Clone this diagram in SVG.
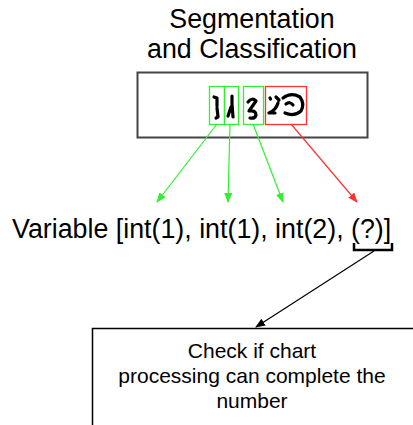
<svg xmlns="http://www.w3.org/2000/svg" width="413" height="425" viewBox="0 0 413 425">
<style>
text{font-family:"Liberation Sans",Arial,sans-serif;fill:#000}
.t{font-size:26.8px;text-anchor:middle}
.b{font-size:21px;text-anchor:middle}
.g{stroke:#3e3;fill:none;stroke-width:1.3}
.r{stroke:#f33;fill:none;stroke-width:1.3}
.ink{stroke:#000;fill:none;stroke-width:3.2;stroke-linecap:round;stroke-linejoin:round}
</style>
<defs>
<marker id="ag" markerWidth="10" markerHeight="8" refX="9" refY="4" orient="auto" markerUnits="userSpaceOnUse"><path d="M0,0 L10,4 L0,8 z" fill="#3e3"/></marker>
<marker id="ar" markerWidth="10" markerHeight="8" refX="9" refY="4" orient="auto" markerUnits="userSpaceOnUse"><path d="M0,0 L10,4 L0,8 z" fill="#f33"/></marker>
<marker id="ak" markerWidth="10" markerHeight="8" refX="9" refY="4" orient="auto" markerUnits="userSpaceOnUse"><path d="M0,0 L10,4 L0,8 z" fill="#000"/></marker>
</defs>
<g id="title">
<text class="t" x="252" y="28">Segmentation</text>
<text class="t" x="252" y="58">and Classification</text>
</g>
<g id="image-box">
<rect x="137.5" y="72.5" width="230" height="65" fill="#fff" stroke="#444" stroke-width="2"/>
<rect class="g" x="209.5" y="86.5" width="15" height="38"/>
<rect class="g" x="224.5" y="86.5" width="14" height="38"/>
<rect class="g" x="243.5" y="86.5" width="20" height="38"/>
<rect class="r" x="265.5" y="86.5" width="41" height="38"/>
<path class="ink" d="M214,97 L217,98 L217,106 M217,108 L218,117 L216,118"/>
<path class="ink" d="M232,96 L232,104 L233,117 M231,107 L228,116"/>
<path class="ink" d="M248,102 Q252,97 256,101 L249,111 Q256,110 256,115 Q255,119 250,118"/>
<path class="ink" d="M270,98 L270.5,99 M276,97 L279,100 M278,103 Q276,110 269,113 L275,113"/>
<path class="ink" d="M283,98 Q291,92 300,97 Q305,104 301,111 Q294,117 285,113 M286,104 Q290,101 293,105"/>
</g>
<g id="connectors">
<line x1="217" y1="124" x2="157" y2="202" stroke="#3e3" stroke-width="1.2" marker-end="url(#ag)"/>
<line x1="230" y1="124" x2="228" y2="202" stroke="#3e3" stroke-width="1.2" marker-end="url(#ag)"/>
<line x1="253" y1="124" x2="283" y2="202" stroke="#3e3" stroke-width="1.2" marker-end="url(#ag)"/>
<line x1="291" y1="124" x2="357" y2="202" stroke="#f33" stroke-width="1.2" marker-end="url(#ar)"/>
<line x1="374" y1="251" x2="256" y2="327" stroke="#000" stroke-width="1.2" marker-end="url(#ak)"/>
</g>
<g id="variable">
<text x="12" y="238" font-size="26.8">Variable [int(1), int(1), int(2), (?)]</text>
<path d="M354,243 L354,250 L392,250 L392,243" fill="none" stroke="#000" stroke-width="2.5"/>
</g>
<g id="check-box">
<rect x="92.5" y="328.5" width="330" height="110" fill="#fff" stroke="#000" stroke-width="1.5"/>
<text class="b" x="252" y="358">Check if chart</text>
<text class="b" x="252" y="383">processing can complete the</text>
<text class="b" x="252" y="408">number</text>
</g>
</svg>
